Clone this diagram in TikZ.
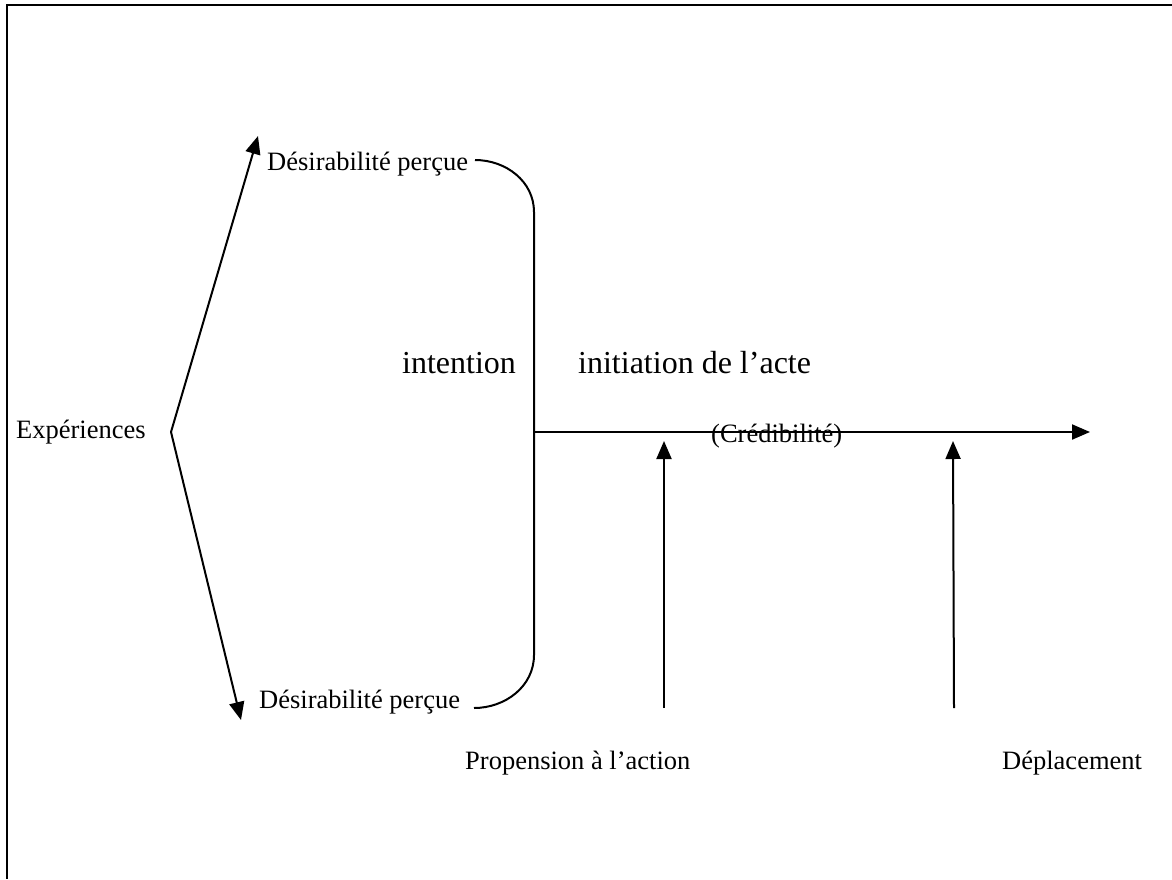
\documentclass[tikz,border=0pt]{standalone}
\usepackage{fontspec}
\setmainfont{Liberation Serif}
\usetikzlibrary{arrows.meta}
\begin{document}
\begin{tikzpicture}[x=1pt,y=-1pt,
  line/.style={line width=2pt},
  arr/.style={line, -{Triangle[length=18pt,width=15pt]}},
  lbl/.style={inner sep=0pt, anchor=base west, font=\fontsize{26.5}{30}\selectfont},
  biglbl/.style={inner sep=0pt, anchor=base west, font=\fontsize{32}{38}\selectfont}]
  \useasboundingbox (0,0) rectangle (1172,879);
  % frame: top and left edges
  \coordinate (fc) at (7,5);
  \coordinate (fr) at (1172,5);
  \coordinate (fb) at (7,879);
  \draw[line] (fr) -- (fc) -- (fb);

  % labels
  \node[lbl] (exp) at (16,438) {Expériences};
  \node[lbl] (des1) at (267,170) {Désirabilité perçue};
  \node[lbl] (des2) at (259,708) {Désirabilité perçue};
  \node[biglbl] (int) at (402,373) {intention};
  \node[biglbl] (ini) at (578,373) {initiation de l’acte};
  \node[lbl] (cred) at (711,442) {(Crédibilité)};
  \node[lbl] (prop) at (465,769) {Propension à l’action};
  \node[lbl] (depl) at (1002,769) {Déplacement};

  % fork from experiences
  \coordinate (apex) at (171,432);
  \coordinate (uptip) at (258,136);
  \coordinate (lowtip) at (241,720);
  \draw[arr] (apex) -- (uptip);
  \draw[arr] (apex) -- (lowtip);

  % brace joining both perceptions
  \coordinate (b1) at (475,160);
  \coordinate (b2) at (534,212);
  \coordinate (b3) at (534,655);
  \coordinate (b4) at (474,708);
  \draw[line] (b1) to[out=0,in=90] (b2) -- (b3) to[out=-90,in=0] (b4);

  % main axis
  \coordinate (ax0) at (534,432);
  \coordinate (ax1) at (1090,432);
  \draw[arr] (ax0) -- (ax1);

  % vertical inputs
  \coordinate (p0) at (664,708);
  \coordinate (p1) at (664,441);
  \coordinate (d0) at (954,708);
  \coordinate (d1) at (953,441);
  \draw[arr] (p0) -- (p1);
  \draw[arr] (d0) -- (d1);
\end{tikzpicture}
\end{document}
